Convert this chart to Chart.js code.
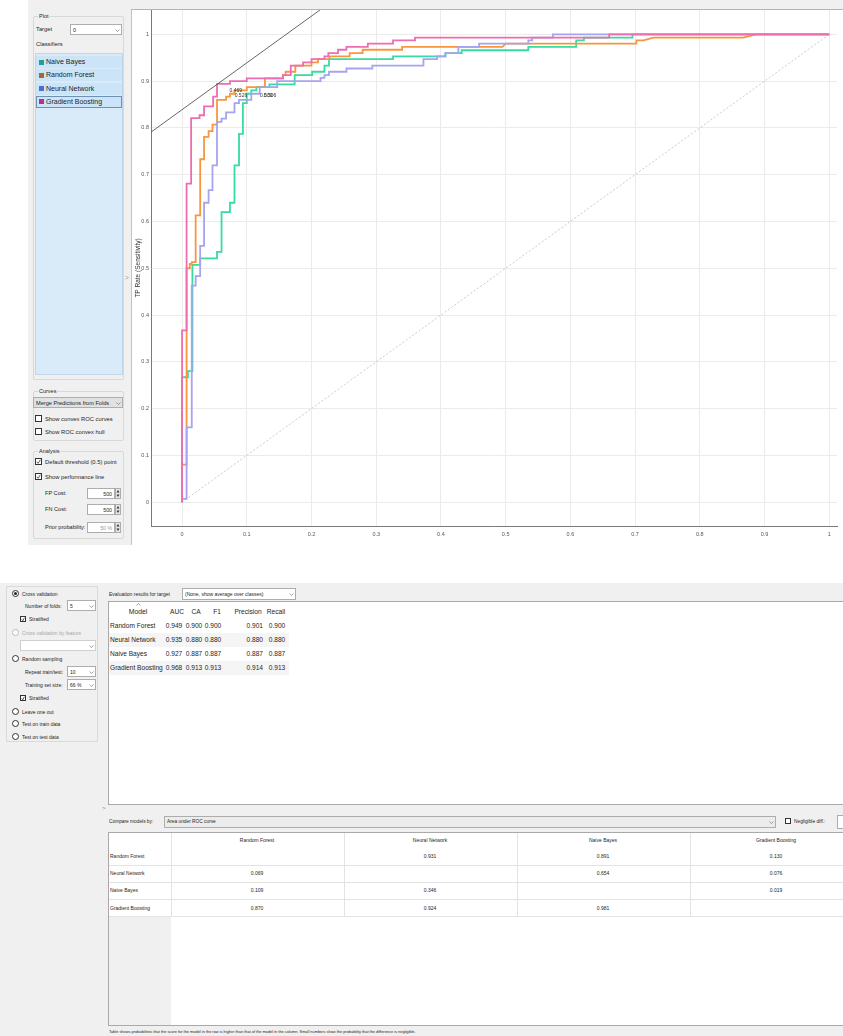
<!DOCTYPE html>
<html>
<head>
<meta charset="utf-8">
<script src="https://cdn.jsdelivr.net/npm/chart.js@4.4.1/dist/chart.umd.min.js"></script>
<style>
  body { margin: 0; width: 843px; height: 1036px; overflow: hidden; background: #fff; position: relative;
         font-family: 'Liberation Sans', Arial, sans-serif; color: #1e1e1e; }
  .a { position: absolute; box-sizing: border-box; }
  .t { position: absolute; white-space: nowrap; line-height: 10px; }
  #rocCanvas { position: absolute; left: 131px; top: 10px; }
</style>
</head>
<body>
<div id="ui"></div>
<canvas id="rocCanvas" width="712" height="535"></canvas>
<div id="overlay"></div>
<script>
// ROC 곡선 데이터
const classifiers = ['Naive Bayes', 'Random Forest', 'Neural Network', 'Gradient Boosting'];
const swatchColors = ['#1f9e98', '#a3683a', '#4a6fce', '#b0309e'];
const curveColors = ['#36dca0', '#f7963f', '#a6a3f0', '#ee6db0'];
// 그리는 순서 (작을수록 위)
const curveOrder = [4, 3, 2, 1];

const nbFpr = [0, 0, 0.009, 0.009, 0.016, 0.016, 0.028, 0.028, 0.054, 0.054, 0.061, 0.061, 0.074, 0.074, 0.081, 0.081, 0.088, 0.088, 0.094, 0.094, 0.1, 0.1, 0.107, 0.107, 0.115, 0.115, 0.135, 0.135, 0.174, 0.174, 0.201, 0.201, 0.22, 0.22, 0.227, 0.227, 0.326, 0.326, 0.407, 0.407, 0.432, 0.432, 0.535, 0.535, 0.609, 0.609, 0.621, 0.621, 0.696, 0.696, 1];
const nbTpr = [0, 0.267, 0.267, 0.28, 0.28, 0.507, 0.507, 0.521, 0.521, 0.535, 0.535, 0.62, 0.62, 0.64, 0.64, 0.72, 0.72, 0.787, 0.787, 0.853, 0.853, 0.873, 0.873, 0.88, 0.88, 0.887, 0.887, 0.893, 0.893, 0.913, 0.913, 0.92, 0.92, 0.933, 0.933, 0.947, 0.947, 0.953, 0.953, 0.96, 0.96, 0.966, 0.966, 0.973, 0.973, 0.987, 0.987, 0.993, 0.993, 1, 1];

const rfFpr = [0, 0, 0.007, 0.007, 0.012, 0.012, 0.015, 0.015, 0.021, 0.021, 0.028, 0.028, 0.034, 0.034, 0.041, 0.041, 0.047, 0.047, 0.054, 0.054, 0.068, 0.068, 0.074, 0.074, 0.081, 0.081, 0.1, 0.1, 0.128, 0.128, 0.156, 0.156, 0.16, 0.16, 0.175, 0.175, 0.2, 0.2, 0.21, 0.21, 0.228, 0.228, 0.259, 0.259, 0.279, 0.279, 0.34, 0.34, 0.495, 0.5, 0.702, 0.702, 0.713, 0.728, 0.867, 0.887, 1];
const rfTpr = [0, 0.08, 0.08, 0.5, 0.5, 0.509, 0.509, 0.513, 0.513, 0.613, 0.613, 0.733, 0.733, 0.781, 0.781, 0.793, 0.793, 0.807, 0.807, 0.86, 0.86, 0.867, 0.867, 0.873, 0.873, 0.88, 0.88, 0.887, 0.887, 0.906, 0.906, 0.913, 0.913, 0.92, 0.92, 0.933, 0.933, 0.94, 0.94, 0.947, 0.947, 0.953, 0.953, 0.96, 0.96, 0.967, 0.967, 0.973, 0.973, 0.98, 0.98, 0.987, 0.987, 0.993, 0.993, 1, 1];

const nnFpr = [0, 0, 0.007, 0.007, 0.015, 0.015, 0.021, 0.021, 0.028, 0.028, 0.034, 0.034, 0.041, 0.041, 0.047, 0.047, 0.054, 0.054, 0.061, 0.061, 0.068, 0.068, 0.081, 0.081, 0.088, 0.088, 0.107, 0.107, 0.12, 0.12, 0.147, 0.147, 0.214, 0.214, 0.22, 0.22, 0.227, 0.227, 0.254, 0.254, 0.294, 0.294, 0.373, 0.373, 0.394, 0.394, 0.407, 0.407, 0.427, 0.427, 0.459, 0.459, 0.535, 0.535, 0.541, 0.541, 0.573, 0.573, 1];
const nnTpr = [0, 0.007, 0.007, 0.16, 0.16, 0.463, 0.463, 0.483, 0.483, 0.548, 0.548, 0.64, 0.64, 0.667, 0.667, 0.72, 0.72, 0.813, 0.813, 0.82, 0.82, 0.833, 0.833, 0.853, 0.853, 0.86, 0.86, 0.873, 0.873, 0.887, 0.887, 0.9, 0.9, 0.907, 0.907, 0.913, 0.913, 0.92, 0.92, 0.927, 0.927, 0.933, 0.933, 0.947, 0.947, 0.953, 0.953, 0.96, 0.96, 0.973, 0.973, 0.98, 0.98, 0.987, 0.987, 0.993, 0.993, 1, 1];

const gbFpr = [0, 0, 0.007, 0.007, 0.014, 0.014, 0.027, 0.027, 0.034, 0.034, 0.048, 0.048, 0.054, 0.054, 0.074, 0.074, 0.1, 0.1, 0.156, 0.156, 0.168, 0.168, 0.187, 0.187, 0.2, 0.2, 0.22, 0.22, 0.226, 0.226, 0.241, 0.241, 0.254, 0.254, 0.287, 0.287, 0.326, 0.326, 0.36, 0.36, 0.66, 0.66, 1];
const gbTpr = [0, 0.367, 0.367, 0.681, 0.681, 0.821, 0.821, 0.827, 0.827, 0.846, 0.846, 0.867, 0.867, 0.894, 0.894, 0.9, 0.9, 0.906, 0.906, 0.913, 0.913, 0.933, 0.933, 0.94, 0.94, 0.947, 0.947, 0.953, 0.953, 0.96, 0.96, 0.967, 0.967, 0.973, 0.973, 0.98, 0.98, 0.987, 0.987, 0.993, 0.993, 1, 1];

const xTicks = [0, 0.1, 0.2, 0.3, 0.4, 0.5, 0.6, 0.7, 0.8, 0.9, 1];
const yTicks = [0, 0.1, 0.2, 0.3, 0.4, 0.5, 0.6, 0.7, 0.8, 0.9, 1];

// 기본 임계값(0.5) 지점 라벨
const thresholdText = ['0.469', '0.526', '0.500', '0.506'];
const thresholdFpr = [0.083, 0.091, 0.130, 0.136];
const thresholdTpr = [0.879, 0.868, 0.870, 0.870];
const perfIntercept = 0.839;

// 평가 결과 표
const evalModels = ['Random Forest', 'Neural Network', 'Naive Bayes', 'Gradient Boosting'];
const aucValues = ['0.949', '0.935', '0.927', '0.968'];
const caValues = ['0.900', '0.880', '0.887', '0.913'];
const f1Values = ['0.900', '0.880', '0.887', '0.913'];
const precisionValues = ['0.901', '0.880', '0.887', '0.914'];
const recallValues = ['0.900', '0.880', '0.887', '0.913'];

// 모델 비교 표 (AUC)
const rfCompare = ['', '0.931', '0.891', '0.130'];
const nnCompare = ['0.069', '', '0.654', '0.076'];
const nbCompare = ['0.109', '0.346', '', '0.019'];
const gbCompare = ['0.870', '0.924', '0.981', ''];

const xMin = -0.048, xMax = 1.012, yMin = -0.051, yMax = 1.052;

function txt(x, y, s, size, opt = {}) {
  const color = opt.color || '#1e1e1e';
  const shift = opt.align === 'center' ? 'translateX(-50%)' : opt.align === 'right' ? 'translateX(-100%)' : 'none';
  return `<div class="t" style="left:${x}px;top:${y - 5}px;font-size:${size}px;color:${color};transform:${shift}">${s}</div>`;
}
function rect(x, y, w, h, css) {
  return `<div class="a" style="left:${x}px;top:${y}px;width:${w}px;height:${h}px;${css}"></div>`;
}
function chevron(x, y, up) {
  const pts = up ? '0.5,2.5 2.5,0.5 4.5,2.5' : '0.5,0.5 2.5,2.5 4.5,0.5';
  return `<svg class="a" style="left:${x}px;top:${y}px" width="5" height="3"><polyline points="${pts}" fill="none" stroke="#777" stroke-width="0.7"/></svg>`;
}
function checkbox(x, y, checked, s = 7) {
  const mark = checked ? `<svg class="a" style="left:0;top:0" width="${s - 2}" height="${s - 2}"><polyline points="0.8,${s * 0.4} ${s * 0.3},${s * 0.62} ${s - 2.6},0.8" fill="none" stroke="#333" stroke-width="0.8"/></svg>` : '';
  return `<div class="a" style="left:${x}px;top:${y}px;width:${s}px;height:${s}px;border:1px solid #333;background:#fff">${mark}</div>`;
}
function radio(x, y, on, disabled) {
  const c = disabled ? '#bbb' : '#333';
  const dot = on ? `<div class="a" style="left:1px;top:1px;width:3px;height:3px;border-radius:50%;background:#222"></div>` : '';
  return `<div class="a" style="left:${x}px;top:${y}px;width:7px;height:7px;border:1px solid ${c};border-radius:50%;background:#fff">${dot}</div>`;
}
function groupBox(x, y, w, h, title, bg) {
  return rect(x, y, w, h, 'border:1px solid #d8d8d8;border-radius:2px') +
    `<div class="t" style="left:${x + 5}px;top:${y - 5}px;font-size:5.5px;background:${bg};padding:0 1px">${title}</div>`;
}
function combo(x, y, w, h, label, size, bg = '#fff') {
  return rect(x, y, w, h, `background:${bg};border:1px solid #adadad`) +
    txt(x + 3, y + h / 2, label, size) + chevron(x + w - 7, y + h / 2 - 1);
}
function spin(x, y, value, grey) {
  return rect(x, y, 28, 11, 'background:#fff;border:1px solid #adadad') +
    txt(x + 25, y + 5.5, value, 5.2, { align: 'right', color: grey ? '#999' : '#1e1e1e' }) +
    rect(x + 28, y, 6, 11, 'background:#e6e6e6;border:1px solid #adadad') +
    `<svg class="a" style="left:${x + 29}px;top:${y + 1}px" width="4" height="9"><polygon points="0.5,3.5 2,1 3.5,3.5" fill="#333"/><polygon points="0.5,5.5 2,8 3.5,5.5" fill="#333"/></svg>`;
}

const plotPanel = {
  render: () => {
    let h = rect(28, 0, 103, 545, 'background:#f0f0f0');
    h += rect(131, 0, 712, 9, 'background:#f0f0f0');
    h += rect(131, 9, 712, 1, 'background:#b5b5b5');
    h += groupBox(33, 16, 91, 364, 'Plot', '#f0f0f0');
    h += txt(36, 29, 'Target', 5.8);
    h += combo(70, 24, 52, 11, '0', 5.5);
    h += txt(36, 44, 'Classifiers', 5.8);
    h += rect(35, 53, 88, 322, 'background:#d9ebf9;border:1px solid #c0d6ea');
    classifiers.forEach((name, i) => {
      const y = 62 + i * 13.3;
      h += rect(36, y - 6, 86, 12, 'background:#cce4f7');
      h += rect(39, y - 2.5, 5, 5, `background:${swatchColors[i]}`);
      h += txt(46, y, name, 7);
    });
    h += rect(36, 96, 86, 12, 'border:1px solid #6f8fb3');
    h += groupBox(33, 391, 91, 50, 'Curves', '#f0f0f0');
    h += combo(33, 397, 90, 11, 'Merge Predictions from Folds', 5.6, '#e1e1e1');
    h += checkbox(35, 415, false) + txt(45, 419, 'Show convex ROC curves', 5.8);
    h += checkbox(35, 428, false) + txt(45, 432, 'Show ROC convex hull', 5.8);
    h += groupBox(33, 451, 91, 88, 'Analysis', '#f0f0f0');
    h += checkbox(35, 458, true) + txt(45, 462, 'Default threshold (0.5) point', 5.8);
    h += checkbox(35, 473, true) + txt(45, 477, 'Show performance line', 5.8);
    h += txt(45, 493, 'FP Cost:', 5.6) + spin(87, 488, '500');
    h += txt(45, 509, 'FN Cost:', 5.6) + spin(87, 504, '500');
    h += txt(45, 527, 'Prior probability:', 5.6) + spin(87, 522, '50 %', true);
    return h;
  },
};

const evalPanel = {
  render: () => {
    let h = rect(0, 583, 843, 453, 'background:#f0f0f0');
    // 왼쪽 샘플링 옵션
    h += rect(6, 586, 92, 156, 'border:1px solid #dadada');
    h += radio(12, 590, true) + txt(22, 593.5, 'Cross validation', 5);
    h += txt(25, 606, 'Number of folds:', 5) + combo(67, 600, 29, 11, '5', 5);
    h += checkbox(20, 616, true, 6) + txt(29, 619, 'Stratified', 5);
    h += radio(12, 629, false, true) + txt(22, 632.5, 'Cross validation by feature', 5, { color: '#a8a8a8' });
    h += rect(20, 640, 76, 11, 'background:#fff;border:1px solid #cfcfcf') + chevron(89, 645);
    h += radio(12, 655, false) + txt(22, 658.5, 'Random sampling', 5);
    h += txt(25, 672, 'Repeat train/test:', 5) + combo(67, 666, 29, 11, '10', 5);
    h += txt(25, 685, 'Training set size:', 5) + combo(67, 679, 29, 11, '66 %', 5);
    h += checkbox(20, 695, true, 6) + txt(29, 698, 'Stratified', 5);
    h += radio(12, 708, false) + txt(22, 711.5, 'Leave one out', 5);
    h += radio(12, 720, false) + txt(22, 723.5, 'Test on train data', 5);
    h += radio(12, 733, false) + txt(22, 736.5, 'Test on test data', 5);
    h += txt(102, 808, '&gt;', 6, { color: '#888' });

    // 평가 결과 표
    h += txt(109, 594, 'Evaluation results for target', 5);
    h += combo(182, 588, 114, 12, '(None, show average over classes)', 5);
    h += rect(108, 601, 740, 204, 'background:#fff;border:1px solid #a9a9a9');
    h += chevron(136, 603, true);
    h += txt(138, 612, 'Model', 6.8, { align: 'center' }) + txt(177, 612, 'AUC', 6.6, { align: 'center' }) +
      txt(196, 612, 'CA', 6.6, { align: 'center' }) + txt(217, 612, 'F1', 6.6, { align: 'center' }) +
      txt(248, 612, 'Precision', 6.6, { align: 'center' }) + txt(276, 612, 'Recall', 6.6, { align: 'center' });
    evalModels.forEach((m, i) => {
      const y = 626 + i * 14;
      if (i % 2 === 1) h += rect(109, y - 7, 180, 14, 'background:#f5f5f5');
      h += txt(110, y, m, 6.6);
      h += txt(174, y, aucValues[i], 6.6, { align: 'center' });
      h += txt(194, y, caValues[i], 6.6, { align: 'center' });
      h += txt(213, y, f1Values[i], 6.6, { align: 'center' });
      h += txt(263, y, precisionValues[i], 6.6, { align: 'right' });
      h += txt(277, y, recallValues[i], 6.6, { align: 'center' });
    });

    // 모델 비교 표
    h += txt(109, 822, 'Compare models by:', 4.8);
    h += combo(164, 816, 612, 12, 'Area under ROC curve', 4.8, '#ececec');
    h += checkbox(785, 818, false, 6) + txt(794, 821.5, 'Negligible diff.:', 4.8);
    h += rect(837, 815, 10, 14, 'background:#fff;border:1px solid #adadad');
    h += rect(108, 832, 740, 194, 'background:#fff;border:1px solid #a9a9a9');
    h += rect(109, 917, 62, 108, 'background:#f0f0f0');
    const colX = [257, 430, 603, 776];
    [171, 344, 517, 690].forEach((x) => (h += rect(x, 833, 1, 84, 'background:#e3e3e3')));
    [865, 882, 899, 916].forEach((y) => (h += rect(109, y, 738, 1, 'background:#e3e3e3')));
    evalModels.forEach((m, j) => (h += txt(colX[j], 840, m, 5, { align: 'center' })));
    [rfCompare, nnCompare, nbCompare, gbCompare].forEach((row, i) => {
      const y = 856 + i * 17.2;
      h += txt(110, y, evalModels[i], 5);
      row.forEach((v, j) => (h += txt(colX[j], y, v, 5, { align: 'center' })));
    });
    h += txt(109, 1032, 'Table shows probabilities that the score for the model in the row is higher than that of the model in the column. Small numbers show the probability that the difference is negligible.', 3.9);
    return h;
  },
};

document.querySelector('#ui').innerHTML = plotPanel.render() + evalPanel.render();
document.querySelector('#overlay').innerHTML =
  rect(131, 10, 1, 535, 'background:#c4c4c4') + txt(125, 278, '&gt;', 6.5, { color: '#999' });

const thresholdLabelPlugin = {
  id: 'thresholdLabels',
  afterDatasetsDraw(chart) {
    const { ctx, scales } = chart;
    ctx.save();
    ctx.font = '5px "Liberation Sans"';
    ctx.fillStyle = '#333';
    ctx.textAlign = 'center';
    ctx.textBaseline = 'middle';
    thresholdText.forEach((s, i) => {
      ctx.fillText(s, scales.x.getPixelForValue(thresholdFpr[i]), scales.y.getPixelForValue(thresholdTpr[i]));
    });
    ctx.restore();
  },
};

const curveData = [
  [nbFpr, nbTpr],
  [rfFpr, rfTpr],
  [nnFpr, nnTpr],
  [gbFpr, gbTpr],
];
const datasets = [
  {
    label: 'diagonal',
    data: [{ x: 0, y: 0 }, { x: 1, y: 1 }],
    borderColor: '#bdbdbd',
    borderWidth: 0.8,
    borderDash: [2, 2],
    pointRadius: 0,
    order: 9,
  },
];
curveData.forEach((c, k) => {
  datasets.push({
    label: classifiers[k],
    data: c[0].map((x, i) => ({ x: x, y: c[1][i] })),
    borderColor: curveColors[k],
    borderWidth: 1.8,
    pointRadius: 0,
    tension: 0,
    order: curveOrder[k],
  });
});
datasets.push({
  label: 'performance line',
  data: [{ x: xMin, y: xMin + perfIntercept }, { x: yMax - perfIntercept, y: yMax }],
  borderColor: '#555',
  borderWidth: 0.9,
  pointRadius: 0,
  order: 0,
});

const tickFont = { family: 'Liberation Sans', size: 5.5 };
const config = {
  type: 'line',
  data: { datasets: datasets },
  options: {
    responsive: false,
    animation: false,
    layout: { padding: { top: 0, right: 6, left: 0, bottom: 0 } },
    plugins: { legend: { display: false }, tooltip: { enabled: false } },
    scales: {
      x: {
        type: 'linear',
        min: xMin,
        max: xMax,
        afterBuildTicks: (s) => { s.ticks = xTicks.map((v) => ({ value: v })); },
        afterFit: (s) => { s.height = 19; s.paddingLeft = 0; s.paddingRight = 0; },
        grid: { color: '#ebebeb', drawTicks: false },
        border: { color: '#7a7a7a' },
        ticks: { font: tickFont, color: '#555', padding: 5, maxRotation: 0, callback: (v) => String(v) },
      },
      y: {
        type: 'linear',
        min: yMin,
        max: yMax,
        afterBuildTicks: (s) => { s.ticks = yTicks.map((v) => ({ value: v })); },
        afterFit: (s) => { s.width = 20; s.paddingTop = 0; s.paddingBottom = 0; },
        grid: { color: '#ebebeb', drawTicks: false },
        border: { color: '#7a7a7a' },
        ticks: { font: tickFont, color: '#555', padding: 2, callback: (v) => String(v) },
        title: {
          display: true,
          text: 'TP Rate (Sensitivity)',
          font: { family: 'Liberation Sans', size: 6.5 },
          color: '#333',
          padding: { top: 3, bottom: 0 },
        },
      },
    },
  },
  plugins: [thresholdLabelPlugin],
};
const rocChart = new Chart(document.getElementById('rocCanvas'), config);
</script>
</body>
</html>
